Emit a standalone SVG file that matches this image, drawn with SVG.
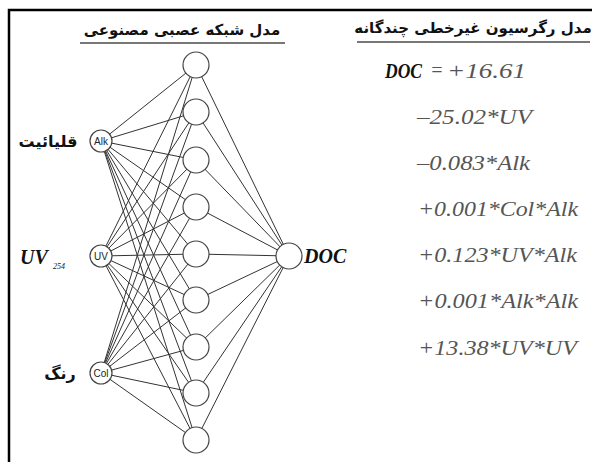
<svg xmlns="http://www.w3.org/2000/svg" width="592" height="462" viewBox="0 0 592 462">
<style>
.frame{stroke:#000;stroke-width:2.5;fill:none}
.ul{stroke:#777;stroke-width:2;fill:none}
.title{font-family:"DejaVu Sans",sans-serif;font-weight:bold;font-size:15px;fill:#111}
.lab{font-family:"DejaVu Sans",sans-serif;font-weight:bold;font-size:16px;fill:#111}
.var{font-family:"Liberation Serif",serif;font-weight:bold;font-style:italic;font-size:20px;fill:#111}
.sub{font-family:"Liberation Serif",serif;font-style:italic;font-size:8px;fill:#222}
.eq{font-family:"Liberation Serif",serif;font-style:italic;font-size:20px;fill:#555}
.n{fill:#fff;stroke:#444;stroke-width:1.2}
.nt{font-family:"Liberation Sans",sans-serif;font-size:10px;fill:#222;text-anchor:middle}
.c line{stroke:#333;stroke-width:1}
</style>
<rect width="592" height="462" fill="#fff"/>
<path class="frame" d="M9,462 V10 H592"/>
<g id="titles">
<text class="title" x="182" y="35" text-anchor="middle">مدل شبکه عصبی مصنوعی</text>
<line class="ul" x1="80" y1="43" x2="285" y2="43"/>
<text class="title" x="473" y="33" text-anchor="middle">مدل رگرسیون غیرخطی چندگانه</text>
<line class="ul" x1="357" y1="42" x2="590" y2="42"/>
</g>
<g class="c" id="connectors">
<line x1="101" y1="141" x2="196" y2="65"/><line x1="101" y1="141" x2="196" y2="112"/><line x1="101" y1="141" x2="196" y2="160"/><line x1="101" y1="141" x2="196" y2="207"/><line x1="101" y1="141" x2="196" y2="254"/><line x1="101" y1="141" x2="196" y2="300"/><line x1="101" y1="141" x2="196" y2="347"/><line x1="101" y1="141" x2="196" y2="393"/><line x1="101" y1="141" x2="196" y2="440"/>
<line x1="101" y1="256" x2="196" y2="65"/><line x1="101" y1="256" x2="196" y2="112"/><line x1="101" y1="256" x2="196" y2="160"/><line x1="101" y1="256" x2="196" y2="207"/><line x1="101" y1="256" x2="196" y2="254"/><line x1="101" y1="256" x2="196" y2="300"/><line x1="101" y1="256" x2="196" y2="347"/><line x1="101" y1="256" x2="196" y2="393"/><line x1="101" y1="256" x2="196" y2="440"/>
<line x1="101" y1="373" x2="196" y2="65"/><line x1="101" y1="373" x2="196" y2="112"/><line x1="101" y1="373" x2="196" y2="160"/><line x1="101" y1="373" x2="196" y2="207"/><line x1="101" y1="373" x2="196" y2="254"/><line x1="101" y1="373" x2="196" y2="300"/><line x1="101" y1="373" x2="196" y2="347"/><line x1="101" y1="373" x2="196" y2="393"/><line x1="101" y1="373" x2="196" y2="440"/>
<line x1="196" y1="65" x2="289" y2="256"/><line x1="196" y1="112" x2="289" y2="256"/><line x1="196" y1="160" x2="289" y2="256"/><line x1="196" y1="207" x2="289" y2="256"/><line x1="196" y1="254" x2="289" y2="256"/><line x1="196" y1="300" x2="289" y2="256"/><line x1="196" y1="347" x2="289" y2="256"/><line x1="196" y1="393" x2="289" y2="256"/><line x1="196" y1="440" x2="289" y2="256"/>
</g>
<g id="in-alk"><circle class="n" cx="101" cy="141" r="11"/><text class="nt" x="101" y="145">Alk</text><text class="lab" x="48" y="147" text-anchor="middle">قلیائیت</text></g>
<g id="in-uv"><circle class="n" cx="101" cy="256" r="11"/><text class="nt" x="101" y="260">UV</text><text class="var" x="20" y="264" font-size="22">UV</text><text class="sub" x="53" y="269">254</text></g>
<g id="in-col"><circle class="n" cx="101" cy="373" r="11"/><text class="nt" x="101" y="377">Col</text><text class="lab" x="60" y="379" text-anchor="middle">رنگ</text></g>
<g id="h1"><circle class="n" cx="196" cy="65" r="13"/></g>
<g id="h2"><circle class="n" cx="196" cy="112" r="13"/></g>
<g id="h3"><circle class="n" cx="196" cy="160" r="13"/></g>
<g id="h4"><circle class="n" cx="196" cy="207" r="13"/></g>
<g id="h5"><circle class="n" cx="196" cy="254" r="13"/></g>
<g id="h6"><circle class="n" cx="196" cy="300" r="13"/></g>
<g id="h7"><circle class="n" cx="196" cy="347" r="13"/></g>
<g id="h8"><circle class="n" cx="196" cy="393" r="13"/></g>
<g id="h9"><circle class="n" cx="196" cy="440" r="13"/></g>
<g id="out-doc"><circle class="n" cx="289" cy="256" r="13"/><text class="var" x="304" y="263">DOC</text></g>
<g id="equation">
<text class="var" x="385" y="78" textLength="37" lengthAdjust="spacingAndGlyphs">DOC</text>
<text class="eq" x="430" y="77">=</text>
<text class="eq" x="447" y="78" textLength="79" lengthAdjust="spacingAndGlyphs">+16.61</text>
<text class="eq" x="417" y="124" textLength="115" lengthAdjust="spacingAndGlyphs">–25.02*UV</text>
<text class="eq" x="417" y="170" textLength="113" lengthAdjust="spacingAndGlyphs">–0.083*Alk</text>
<text class="eq" x="418" y="216" textLength="160" lengthAdjust="spacingAndGlyphs">+0.001*Col*Alk</text>
<text class="eq" x="418" y="262" textLength="159" lengthAdjust="spacingAndGlyphs">+0.123*UV*Alk</text>
<text class="eq" x="418" y="308" textLength="160" lengthAdjust="spacingAndGlyphs">+0.001*Alk*Alk</text>
<text class="eq" x="418" y="355" textLength="159" lengthAdjust="spacingAndGlyphs">+13.38*UV*UV</text>
</g>
</svg>
